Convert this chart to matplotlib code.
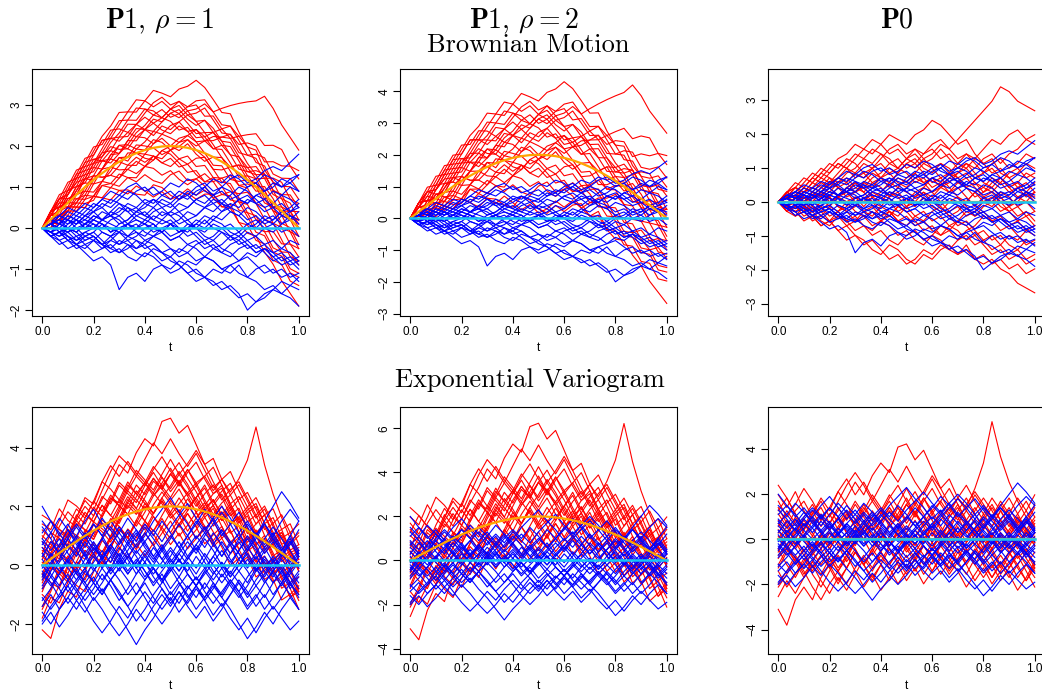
import numpy as np
import matplotlib
matplotlib.use("Agg")
import matplotlib.pyplot as plt

plt.rcParams['mathtext.fontset'] = 'cm'
plt.rcParams['font.family'] = ['Liberation Sans', 'DejaVu Sans']

t = np.linspace(0, 1, 31)

# true mean functions
mean_p1 = [0, .209, .416, .618, .813, 1.0, 1.176, 1.338, 1.486, 1.618, 1.732,
           1.827, 1.902, 1.956, 1.989, 2.0, 1.989, 1.956, 1.902, 1.827, 1.732,
           1.618, 1.486, 1.338, 1.176, 1.0, .813, .618, .416, .209, 0]
mean_p0 = [0.0] * 31

# brownian motion paths (deviation from mean)
bm_red = [
    [0, .2, .1, .3, .5, .4, .6, .8, .7, .9, 1.1, 1.0, 1.2, 1.4, 1.3, 1.2, 1.4, 1.5, 1.7, 1.6, 1.4, 1.2, 1.3, 1.0, .8, .9, .6, .5, .3, .4, .2],
    [0, -.1, .1, 0, .2, .1, -.1, .1, .3, .2, .4, .3, .5, .4, .6, .8, .7, .9, 1.0, 1.2, 1.1, 1.3, 1.5, 1.7, 1.9, 2.1, 2.4, 2.3, 2.1, 2.0, 1.9],
    [0, .1, -.1, -.2, 0, -.1, -.3, -.2, -.4, -.3, -.5, -.6, -.4, -.5, -.7, -.6, -.8, -.9, -.7, -.8, -1.0, -1.1, -.9, -1.2, -1.3, -1.2, -1.4, -1.5, -1.7, -1.8, -1.9],
    [0, .2, .4, .3, .5, .7, .6, .8, .7, .5, .6, .4, .5, .7, .6, .8, .9, .7, .6, .8, .7, .5, .6, .4, .3, .5, .4, .2, .3, .1, .2],
    [0, -.2, -.1, -.3, -.2, -.4, -.5, -.3, -.4, -.6, -.5, -.7, -.6, -.8, -.9, -.7, -.6, -.8, -.7, -.5, -.6, -.4, -.5, -.7, -.6, -.8, -.7, -.9, -1.0, -.8, -.9],
    [0, .1, .2, 0, .1, .3, .2, .4, .5, .3, .2, .4, .3, .1, .2, 0, -.1, .1, -.1, -.2, 0, .1, -.1, -.3, -.2, -.4, -.3, -.5, -.4, -.6, -.5],
    [0, -.1, -.3, -.2, -.4, -.3, -.1, -.2, 0, .1, -.1, .1, .2, .4, .3, .5, .6, .4, .5, .3, .4, .6, .7, .5, .6, .8, .9, .7, .8, 1.0, .9],
    [0, .2, .1, .3, .2, .4, .3, .1, .2, 0, -.2, -.1, -.3, -.2, -.4, -.5, -.3, -.4, -.6, -.7, -.5, -.4, -.2, -.3, -.1, 0, -.2, -.1, .1, 0, .2],
    [0, -.1, 0, .2, .3, .5, .4, .6, .8, 1.0, .9, 1.1, 1.0, .8, .9, .7, .8, 1.0, 1.1, .9, 1.0, .8, .7, .9, .8, .6, .7, .5, .6, .8, .7],
    [0, .1, -.1, -.2, -.1, -.3, -.4, -.6, -.5, -.7, -.8, -1.0, -1.1, -.9, -1.0, -1.2, -1.3, -1.1, -1.2, -1.0, -.9, -1.1, -1.0, -1.2, -1.1, -1.3, -1.2, -1.4, -1.3, -1.5, -1.4],
    [0, .2, .3, .1, 0, .2, .4, .5, .7, .6, .8, .7, .9, 1.1, 1.2, 1.0, 1.1, .9, .7, .8, .6, .4, .5, .3, .1, .2, 0, -.2, -.1, -.3, -.2],
    [0, -.2, -.3, -.1, -.2, 0, .1, -.1, -.2, -.4, -.3, -.5, -.4, -.2, -.3, -.1, 0, .2, .1, .3, .2, .4, .3, .1, .2, .4, .5, .3, .4, .6, .5],
    [0, .1, .3, .2, .4, .6, .8, .7, .9, .8, .6, .7, .5, .6, .4, .3, .5, .4, .2, .3, .5, .6, .8, .7, .9, 1.0, .8, 1.0, 1.1, 1.3, 1.2],
    [0, -.1, .1, 0, -.2, -.1, .1, .3, .2, .4, .3, .1, 0, .2, .1, -.1, -.3, -.2, -.4, -.3, -.5, -.6, -.8, -.7, -.9, -1.1, -1.0, -1.2, -1.1, -1.3, -1.2],
    [0, .2, .1, 0, .2, .1, .3, .5, .4, .6, .5, .7, .8, .6, .7, .9, .8, .6, .4, .5, .3, .1, 0, .2, 0, -.1, .1, -.1, 0, .2, .1],
    [0, -.1, -.2, -.4, -.3, -.5, -.4, -.6, -.8, -.7, -.9, -.8, -1.0, -1.2, -1.1, -1.3, -1.2, -1.0, -1.1, -.9, -1.0, -.8, -.7, -.9, -.8, -1.0, -.9, -.7, -.8, -.6, -.7],
    [0, .1, .3, .5, .4, .6, .5, .3, .4, .2, .3, .5, .6, .8, .7, .9, 1.1, 1.0, 1.2, 1.3, 1.1, .9, 1.0, .8, .6, .7, .5, .3, .4, .2, .0],
    [0, .1, 0, -.1, .1, .2, .1, -.1, -.2, -.1, .1, 0, -.1, .1, .3, .2, .1, .3, .2, 0, -.2, -.1, -.3, -.2, 0, .1, -.1, -.2, -.4, -.3, -.5],
    [0, -.2, -.1, .1, 0, .2, .4, .3, .1, .2, .4, .6, .5, .3, .5, .4, .6, .8, .7, .5, .6, .8, 1.0, .9, 1.1, 1.3, 1.2, 1.4, 1.5, 1.3, 1.4],
    [0, .2, .1, -.1, -.3, -.2, -.4, -.3, -.5, -.4, -.2, -.3, -.1, -.2, -.4, -.3, -.5, -.4, -.2, -.1, -.3, -.5, -.4, -.6, -.8, -.7, -.9, -1.1, -1.0, -1.2, -1.1],
    [0, .1, .2, .4, .6, .5, .7, .9, 1.0, 1.2, 1.1, 1.3, 1.2, 1.0, 1.1, .9, 1.0, .8, .9, 1.1, .9, .7, .8, .6, .4, .3, .5, .3, .1, .2, .4],
    [0, -.1, -.2, -.1, -.3, -.5, -.4, -.2, -.1, .1, 0, .2, .1, 0, -.2, -.1, .1, .2, 0, -.1, -.3, -.2, 0, .2, .3, .2, .4, .6, .7, .5, .6],
    [0, .1, 0, .2, .3, .2, 0, .1, .3, .4, .2, 0, -.2, -.3, -.1, -.2, -.4, -.6, -.5, -.7, -.6, -.8, -.6, -.5, -.3, -.4, -.6, -.5, -.7, -.9, -.8],
    [0, .2, .3, .2, .4, .3, .5, .4, .6, .7, .9, .8, 1.0, .9, .7, .6, .4, .5, .3, .4, .2, .3, .1, -.1, .1, 0, .2, .1, -.1, 0, -.2],
    [0, -.1, 0, .1, -.1, -.2, 0, .1, 0, -.2, -.3, -.2, -.4, -.3, -.1, 0, .2, .3, .5, .4, .6, .5, .3, .4, .2, .3, .1, -.1, -.3, -.2, -.4],
]
bm_blue = [
    [0, .1, .2, .1, .3, .2, .4, .5, .3, .4, .6, .5, .7, .6, .8, .9, .7, .8, 1.0, 1.1, .9, 1.0, 1.2, 1.3, 1.1, 1.2, 1.4, 1.5, 1.4, 1.6, 1.8],
    [0, -.1, -.2, 0, -.1, -.3, -.2, -.4, -.5, -.3, -.4, -.6, -.7, -.5, -.6, -.8, -.9, -1.1, -1.0, -1.2, -1.3, -1.5, -1.4, -1.6, -2.0, -1.8, -1.7, -1.5, -1.6, -1.4, -1.5],
    [0, -.2, -.3, -.5, -.4, -.6, -.8, -.7, -.9, -1.5, -1.2, -1.1, -1.3, -1.0, -.9, -1.1, -1.0, -.8, -.9, -.7, -.8, -1.0, -.9, -1.1, -1.2, -1.0, -.9, -1.1, -1.0, -1.2, -1.1],
    [0, .1, .3, .2, .4, .3, .5, .7, .6, .8, .7, .9, 1.0, .8, .9, 1.1, 1.0, 1.2, 1.1, .9, .8, 1.0, .9, .7, .8, .6, .7, .9, .8, 1.0, .9],
    [0, -.1, .1, 0, -.2, -.1, 0, .2, .1, 0, -.2, -.1, -.3, -.2, 0, .1, -.1, 0, .2, .1, .3, .2, .4, .3, .1, .2, 0, .1, -.1, 0, -.2],
    [0, .2, .1, .3, .2, 0, .1, -.1, -.2, 0, .1, .3, .2, .4, .5, .3, .4, .2, .3, .5, .4, .6, .5, .7, .6, .8, .9, 1.1, 1.0, 1.2, 1.3],
    [0, -.2, -.1, -.3, -.4, -.2, -.3, -.5, -.4, -.6, -.5, -.3, -.4, -.2, -.3, -.5, -.6, -.4, -.5, -.7, -.8, -1.0, -1.1, -.9, -1.2, -1.3, -1.5, -1.4, -1.6, -1.7, -1.9],
    [0, .1, 0, .2, .1, .3, .4, .2, .3, .5, .4, .2, .1, -.1, 0, -.2, -.1, .1, 0, -.2, -.3, -.1, -.2, -.4, -.3, -.5, -.4, -.6, -.5, -.3, -.4],
    [0, -.1, -.3, -.2, -.4, -.5, -.3, -.4, -.2, -.1, -.3, -.2, 0, .1, -.1, .1, .2, .4, .3, .5, .6, .4, .5, .7, .6, .8, .7, .5, .6, .4, .5],
    [0, .2, .3, .5, .4, .6, .5, .7, .9, .8, 1.0, 1.1, .9, 1.0, .8, .7, .9, .8, .6, .5, .7, .6, .4, .3, .5, .4, .2, .3, .1, .2, 0],
    [0, -.1, 0, -.2, -.3, -.1, -.2, -.4, -.6, -.5, -.7, -.8, -.6, -.7, -.9, -1.0, -.8, -.9, -1.1, -1.2, -1.0, -1.1, -.9, -.8, -.6, -.7, -.5, -.6, -.8, -.7, -.9],
    [0, .1, .2, 0, -.1, .1, 0, .2, .3, .1, .2, .4, .3, .5, .7, .6, .8, .7, .9, 1.0, 1.2, 1.1, 1.3, 1.2, 1.0, 1.1, .9, 1.0, 1.2, 1.1, 1.3],
    [0, -.2, -.1, -.3, -.2, -.4, -.3, -.1, -.2, -.4, -.3, -.5, -.4, -.6, -.8, -.7, -.9, -1.1, -1.3, -1.2, -1.4, -1.3, -1.5, -1.7, -1.6, -1.8, -1.6, -1.5, -1.3, -1.4, -1.2],
    [0, .1, -.1, .1, .2, 0, .2, .1, -.1, 0, .1, -.1, -.2, 0, -.1, .1, 0, -.2, -.1, -.3, -.2, 0, .1, -.1, .1, 0, .2, .1, .3, .2, .4],
    [0, .2, .1, .3, .2, .4, .6, .5, .7, .6, .4, .5, .3, .2, .4, .3, .1, .2, 0, -.1, .1, 0, -.2, -.1, -.3, -.2, 0, -.1, .1, .3, .2],
    [0, -.1, .1, .2, 0, .1, .3, .2, .4, .3, .1, 0, .2, .1, -.1, -.3, -.2, -.4, -.3, -.5, -.4, -.6, -.7, -.5, -.4, -.6, -.5, -.7, -.9, -.8, -1.0],
    [0, .1, .2, .4, .3, .5, .4, .6, .5, .7, .9, .8, .6, .7, .5, .6, .4, .5, .7, .6, .8, .9, .7, .8, 1.0, 1.1, 1.3, 1.2, 1.0, 1.1, .9],
    [0, -.2, -.4, -.3, -.5, -.4, -.6, -.5, -.3, -.4, -.2, -.3, -.5, -.4, -.6, -.7, -.5, -.6, -.4, -.3, -.5, -.4, -.2, -.3, -.1, -.2, -.4, -.3, -.5, -.6, -.8],
    [0, .1, 0, -.1, .1, .2, .1, 0, .2, .3, .5, .4, .6, .5, .3, .4, .6, .5, .7, .8, .6, .7, .5, .4, .2, .3, .1, .2, .4, .5, .7],
    [0, -.1, -.2, -.1, 0, -.2, -.1, -.3, -.5, -.6, -.4, -.5, -.3, -.4, -.6, -.5, -.7, -.6, -.8, -.7, -.5, -.6, -.4, -.3, -.5, -.4, -.6, -.8, -.7, -.9, -.8],
    [0, .2, .1, 0, -.1, .1, .2, .4, .3, .2, 0, .1, -.1, -.2, -.1, -.3, -.2, 0, .1, .3, .2, .4, .6, .5, .7, .6, .4, .5, .3, .4, .6],
    [0, -.1, 0, -.1, -.3, -.2, -.1, .1, 0, -.1, .1, .2, .1, .3, .2, .4, .3, .1, 0, .2, 0, -.1, -.3, -.2, -.4, -.6, -.5, -.7, -.6, -.8, -.7],
    [0, .1, .3, .2, .1, .3, .2, .1, -.1, .1, .2, .4, .5, .7, .6, .5, .7, .9, .8, 1.0, .8, .6, .8, 1.0, .9, .7, .5, .6, .8, .7, .5],
    [0, -.2, -.1, -.2, -.4, -.3, -.2, -.4, -.3, -.1, -.2, 0, .1, 0, .2, .1, -.1, 0, -.2, -.4, -.3, -.5, -.6, -.8, -.7, -.9, -1.1, -1.0, -1.2, -1.1, -1.3],
    [0, .1, -.1, 0, .2, .1, .3, .2, .4, .6, .5, .3, .4, .2, .1, .2, 0, -.1, .1, 0, .2, .1, -.1, -.2, 0, .1, .3, .2, .4, .3, .1],
]

# exponential variogram paths (deviation from mean)
exp_red = [
    [-.5, -.2, .3, .1, .6, .2, -.1, .4, .8, .5, 1.0, .6, .9, .4, .7, 1.1, .8, .5, .9, 1.2, .8, 1.3, 1.0, 1.6, 2.4, 3.7, 2.6, 1.8, 1.2, .7, .3],
    [.8, .4, .9, 1.2, .7, 1.0, .5, .9, 1.3, 1.8, 1.4, 2.0, 2.4, 2.1, 2.9, 3.0, 2.5, 2.8, 2.2, 1.6, 1.9, 1.3, .9, 1.4, 1.0, .6, 1.1, .7, .3, .6, .2],
    [-2.2, -2.7, -1.9, -1.5, -1.9, -1.2, -.8, -1.3, -.9, -.4, -.8, -.3, -.7, -.2, .2, -.3, -.7, -.2, -.6, -1.1, -.7, -.3, -.8, -.4, .1, -.3, .2, -.2, -.6, -.3, -.8],
    [1.4, 1.0, 1.5, .9, .5, .8, .3, .7, .2, -.2, .3, -.1, .4, .9, .6, 1.1, .7, 1.2, 1.6, 1.1, .7, 1.0, .5, .1, .5, .0, -.4, .1, -.3, .2, .6],
    [-.8, -.3, -.7, -1.2, -.8, -1.3, -1.7, -1.2, -1.6, -1.1, -.6, -1.0, -.5, -.9, -1.4, -1.0, -.6, -1.1, -.7, -.2, -.6, -1.0, -1.5, -1.1, -.7, -1.2, -.8, -.4, -.9, -1.3, -.9],
    [.2, .6, .2, .7, 1.1, .6, 1.0, 1.5, 1.1, .6, .2, .7, .3, -.2, .2, -.3, .1, .5, .1, .6, 1.0, .6, 1.1, 1.5, 1.1, .7, 1.2, .8, 1.3, .9, 1.4],
    [-1.4, -1.0, -.5, -.9, -.4, .1, -.3, .2, -.2, .3, .8, .4, .0, .5, .1, -.4, -.1, -.5, -1.0, -.6, -1.1, -.7, -.3, -.8, -1.2, -.8, -1.3, -.9, -.5, -1.0, -1.5],
    [.5, .1, -.3, .1, -.4, -.8, -.4, -.9, -.5, -1.0, -1.5, -1.1, -1.6, -1.2, -.7, -1.1, -.6, -.2, -.6, -.1, .3, -.1, .4, .0, -.4, .1, .5, .1, .6, .2, -.2],
    [-.3, .2, .7, .3, .8, 1.3, .9, 1.5, 1.9, 1.4, 1.8, 1.3, .9, 1.4, 1.0, .5, .9, .4, .8, .3, -.1, .4, -.1, .3, .8, .4, .9, 1.3, .8, 1.2, .7],
    [1.0, .5, .0, -.4, .1, -.3, .2, -.2, -.7, -.3, -.8, -.4, .1, -.3, -.8, -1.3, -.9, -1.4, -1.0, -.5, -.9, -.4, -.8, -1.3, -.9, -1.4, -1.0, -.5, -.1, -.6, -1.0],
    [-1.0, -1.5, -1.1, -.6, -1.0, -.5, -.9, -.4, .0, .4, .0, .5, .9, .5, 1.0, .6, 1.1, 1.5, 2.0, 1.6, 1.1, .7, .2, .6, .1, -.3, .1, -.4, -.8, -.4, -.9],
    [.1, -.3, .2, .6, .2, -.2, .3, -.1, -.5, -.1, .4, .9, .5, 1.0, .6, .2, .6, .1, -.3, .1, -.4, .0, .5, .1, .6, 1.0, .6, .2, -.2, .3, -.1],
    [-1.8, -1.3, -1.7, -1.2, -.7, -1.1, -.6, -1.0, -1.4, -.9, -.5, -.9, -.4, -.8, -.3, .2, -.2, .3, -.1, -.6, -.2, -.7, -1.1, -.6, -.2, -.6, -1.1, -.7, -1.2, -.8, -.4],
    [.9, 1.3, .8, .4, .9, .4, .8, .3, .7, 1.2, .8, 1.2, 1.7, 2.2, 1.8, 2.3, 1.8, 1.4, 1.9, 1.4, .9, 1.3, 1.7, 1.2, .8, 1.3, .9, .4, .8, .3, .7],
    [-.6, -.2, -.7, -.3, -1.1, -1.5, -1.0, -.5, -.9, -.4, -.8, -1.3, -.8, -.3, -.7, -.2, .3, -.1, .4, .8, .3, -.1, .3, -.2, -.7, -.3, -.8, -1.2, -.8, -1.3, -.8],
    [1.2, .7, 1.1, 1.6, 1.2, .7, .3, .7, .2, .6, 1.1, .6, .2, -.2, .3, .7, 1.2, .8, .3, -.1, .3, .8, .4, .9, 1.3, .9, .4, .8, .3, -.2, .2],
    [-.3, -.8, -1.2, -.7, -.3, .2, -.2, .3, .8, .4, .9, 1.4, 1.0, .6, 1.1, 1.6, 1.1, .7, .2, -.2, .2, -.3, -.7, -.3, -.8, -1.2, -.7, -1.1, -1.6, -1.2, -.7],
    [.4, .9, .5, .0, -.5, -.1, -.6, -1.0, -.6, -.1, .4, .0, -.4, .1, .5, .1, -.3, -.8, -.3, .2, .7, 1.1, .6, .2, .7, 1.1, .6, 1.0, .5, .9, .4],
    [-1.5, -1.1, -.6, -1.0, -1.5, -1.9, -1.4, -1.0, -.5, .0, .5, .1, .6, 1.0, .6, 1.1, 1.5, 1.0, .6, .1, .5, .0, -.4, .0, -.5, -.9, -.5, -.9, -.4, -.8, -1.2],
    [.6, .2, -.2, .3, .8, 1.2, .7, 1.2, 1.7, 2.1, 1.7, 1.2, .8, 1.2, .7, .3, .8, 1.3, .9, .4, .0, .5, .9, .5, .0, -.4, -.9, -.4, .0, -.4, .1],
    [.0, .4, -.1, -.5, -.9, -.5, -.9, -1.4, -.9, -.4, -.8, -.3, .2, -.2, .3, -.2, -.6, -.1, .4, .9, .4, .9, 1.3, .8, .3, .7, .2, -.3, .1, .6, 1.1],
    [-.9, -.4, .0, .5, .1, .6, 1.0, .5, .9, .4, .0, -.5, -.1, .4, .8, 1.3, .8, .4, -.1, .3, -.2, .2, -.3, -.8, -.3, .1, .6, .2, .7, .3, -.2],
    [1.7, 1.3, .8, .3, .7, .2, -.3, .1, -.3, .2, .6, .1, -.4, -.8, -.4, -.9, -.4, .0, .4, .0, .5, .1, .6, 1.0, .6, .1, -.3, .1, .5, .1, .5],
    [-.4, .1, .6, .2, -.3, .1, .5, 1.0, .6, 1.1, .7, .3, .8, 1.3, 1.7, 1.2, .8, 1.3, .8, 1.2, 1.6, 1.1, .6, .2, -.3, .2, -.2, .3, .7, .3, -.1],
    [.3, -.2, -.6, -1.1, -.7, -.3, -.8, -.4, .1, -.3, -.8, -1.2, -.8, -1.3, -.9, -.5, -1.0, -.6, -.1, -.5, -1.0, -.6, -.1, .3, -.1, .4, .9, .5, .1, .5, 1.0],
]
exp_blue = [
    [2.0, 1.5, 1.0, 1.4, .9, .4, .8, .3, -.2, .2, -.3, .1, .5, .1, .6, 1.0, .6, .2, .6, .1, -.3, .1, -.4, .0, .4, .0, .5, .9, .4, .8, .3],
    [-2.0, -1.6, -2.1, -1.7, -1.2, -1.6, -1.1, -1.5, -2.0, -2.4, -2.0, -1.5, -1.9, -1.4, -1.0, -1.4, -.9, -1.3, -.8, -1.2, -1.7, -1.3, -1.8, -2.2, -1.8, -2.3, -1.8, -1.4, -1.8, -2.2, -1.9],
    [-.4, .1, .5, .1, .5, 1.0, 1.4, 1.0, 1.5, 1.1, .7, 1.1, .6, .2, .6, .1, .5, 1.0, 1.5, 1.1, 1.6, 2.0, 1.6, 1.1, 1.5, 1.0, .6, 1.0, 1.5, 1.9, 1.5],
    [.6, .2, -.2, .2, -.3, -.7, -1.2, -.8, -1.3, -1.7, -2.2, -2.7, -2.2, -1.8, -1.3, -.9, -1.3, -.8, -.4, -.8, -.3, .1, -.3, .2, -.2, -.7, -.3, .2, -.2, .3, -.1],
    [-1.2, -.8, -.3, .1, -.3, .2, .6, .2, .7, .3, -.2, .2, -.2, -.7, -.3, -.8, -.4, .1, -.3, .2, .7, .3, .8, .4, -.1, .3, -.2, -.6, -.2, -.7, -.3],
    [1.1, 1.5, 1.1, .6, 1.0, 1.5, 1.9, 1.4, .9, 1.3, .8, .4, .8, 1.2, .8, 1.3, 1.7, 2.1, 1.6, 1.2, 1.6, 1.1, .7, 1.1, .6, .2, .6, .1, .5, 1.0, .5],
    [-.2, -.6, -1.1, -.7, -1.2, -.8, -.4, -.9, -.5, -.1, -.5, -1.0, -.6, -1.1, -1.5, -1.1, -1.6, -1.2, -.7, -1.1, -.6, -1.0, -.5, -.9, -1.4, -1.0, -1.5, -1.1, -.6, -1.0, -1.5],
    [.3, .8, .4, .9, .5, .0, .4, -.1, .3, .8, 1.2, .8, 1.3, .9, .5, .0, .4, .0, -.5, -.1, .3, -.1, .4, .9, 1.4, 1.0, 1.5, 2.0, 2.5, 2.1, 1.6],
    [-1.6, -2.0, -1.5, -1.1, -1.5, -1.0, -.6, -1.0, -.5, -.9, -1.4, -1.0, -.5, -.1, -.5, .0, -.4, -.8, -.4, -.9, -1.3, -.9, -.5, -.9, -.4, .0, -.4, .1, -.3, -.8, -.4],
    [.0, -.4, .1, .5, 1.0, .6, 1.1, 1.6, 1.2, .7, 1.1, .6, 1.0, 1.5, 1.9, 2.3, 1.8, 1.4, .9, 1.3, .8, .3, .7, .2, .6, 1.1, .7, 1.1, .6, .1, .5],
    [-.8, -.4, -.8, -1.3, -.9, -1.4, -1.9, -2.3, -1.9, -1.4, -1.8, -1.3, -.9, -1.3, -.8, -1.2, -.7, -.3, -.7, -.2, -.6, -1.1, -1.5, -2.0, -2.5, -2.1, -1.6, -2.0, -1.5, -1.1, -1.5],
    [.9, .5, .9, .4, .0, .4, -.1, -.5, -.1, .4, .0, .5, .1, -.3, .1, .5, .1, .6, 1.0, .6, 1.1, .7, .2, -.2, .2, -.2, .3, -.1, .4, .0, .4],
    [-.5, .0, -.4, -.9, -.5, -.1, .3, -.1, .3, -.2, .3, .7, 1.1, .7, .2, -.2, .2, -.3, -.7, -.3, .1, .5, .1, .5, 1.0, .6, .1, -.3, -.7, -.3, .1],
    [1.5, 1.1, .6, 1.0, 1.4, 1.0, .5, .9, .4, .0, .4, -.1, -.5, -.1, -.5, -1.0, -.6, -1.0, -1.5, -1.1, -.7, -1.1, -.6, -.2, -.6, -.1, -.5, -1.0, -.6, -.1, .3],
    [-1.1, -1.5, -1.1, -.7, -.2, -.6, -.2, .3, .7, .3, .8, 1.2, .8, .3, .7, .2, -.2, .2, .7, .3, -.2, -.6, -.2, -.6, -1.1, -.7, -1.1, -.6, -.2, -.6, -1.0],
    [-1.9, -1.4, -1.0, -.5, -.9, -.4, .1, .5, .1, .6, .2, -.3, .1, -.4, -.8, -1.3, -.9, -1.4, -1.8, -1.4, -1.9, -1.5, -1.0, -.6, -1.0, -.5, -.1, .3, -.1, -.6, -1.1],
    [.7, 1.1, 1.6, 1.2, .7, .3, .7, .2, -.3, .1, .5, 1.0, 1.4, 1.0, 1.5, 1.1, .6, 1.0, .5, 1.0, 1.4, 1.8, 1.4, .9, .5, .9, 1.4, 1.0, .5, 1.0, 1.5],
    [.2, -.3, -.7, -.3, -.8, -1.2, -.8, -.3, -.7, -1.2, -.8, -.3, .1, .6, .2, .6, .2, -.3, -.7, -1.2, -.8, -.3, -.7, -1.1, -.7, -.2, .2, -.2, -.6, -.2, .3],
    [-.7, -.2, .2, .7, .3, .8, .4, .9, 1.3, .9, .4, -.1, .3, -.1, -.6, -.1, .4, .8, .4, .9, .5, .0, -.4, .0, .5, 1.0, 1.4, .9, .5, .9, .4],
    [1.3, .9, .4, -.1, -.5, -.1, -.6, -1.0, -.5, -.1, .3, -.1, .4, -.1, -.5, -.1, -.6, -1.1, -.7, -.2, .3, .8, .4, .8, .3, -.1, -.6, -.2, .3, .8, .3],
    [-.1, .4, .0, -.5, -.1, -.6, -1.0, -.6, -.1, -.5, -1.0, -.6, -1.1, -1.6, -2.0, -1.6, -1.1, -.7, -1.1, -.6, -1.0, -1.4, -1.0, -.5, -.9, -1.4, -1.0, -1.5, -1.1, -.6, -.2],
    [.4, .0, .5, .9, 1.3, .9, 1.4, 1.0, .5, .1, -.3, .1, -.4, .0, .5, .9, 1.4, 1.0, 1.4, 1.9, 1.5, 1.0, 1.4, 1.8, 1.3, .8, .4, .8, .3, .7, 1.2],
    [-1.4, -1.0, -1.5, -1.1, -.6, -.2, -.6, -.1, -.5, -1.0, -1.4, -1.9, -1.5, -1.0, -.6, -.2, .2, -.2, .3, -.1, -.5, -.1, -.6, -1.0, -1.5, -1.1, -.6, -.2, .2, -.2, -.6],
    [.8, .3, .7, 1.2, .8, .3, -.2, .2, .7, 1.1, 1.6, 1.2, .7, .3, -.1, .3, .8, .3, -.1, .4, .0, -.4, .0, .5, .9, .5, .0, -.4, .0, -.4, -.8],
    [-.3, -.7, -.3, .2, .6, 1.1, .7, .2, .6, .2, .7, .3, -.2, -.6, -.2, .2, -.2, .3, .7, 1.1, .7, 1.2, .8, .4, .0, .4, .9, 1.3, .9, .5, .0],
]

col_titles = [r"$\mathbf{P1}$, $\rho = 1$", r"$\mathbf{P1}$, $\rho = 2$", r"$\mathbf{P0}$"]
row_titles = ["Brownian Motion", "Exponential Variogram"]
red_scale = [1.0, 1.41, 1.41]
col_means = [mean_p1, mean_p1, mean_p0]
ylims = [[(-2.15, 3.87), (-3.085, 4.69), (-3.37, 3.90)],
         [(-3.01, 5.39), (-4.23, 6.98), (-5.07, 5.88)]]
yticks = [[range(-2, 4), range(-3, 5), range(-3, 4)],
          [range(-2, 5, 2), range(-4, 7, 2), range(-4, 5, 2)]]

W, H = 1042, 692
fig = plt.figure(figsize=(W / 100, H / 100), dpi=100)

lefts = [32, 400, 768]
tops = [69.3, 406.7]
aw, ah = 277, 247

for r, (reds, blues) in enumerate([(bm_red, bm_blue), (exp_red, exp_blue)]):
    for c in range(3):
        ax = fig.add_axes([lefts[c] / W, 1 - (tops[r] + ah) / H, aw / W, ah / H])
        mu = np.array(col_means[c])
        for p in reds:
            ax.plot(t, mu + red_scale[c] * np.array(p), color='#FF0000', lw=0.8)
        for p in blues:
            ax.plot(t, p, color='#0000FF', lw=0.8)
        ax.plot(t, mu, color='#FFA500', lw=1.6)
        ax.plot(t, mean_p0, color='#18C4F4', lw=1.8)
        ax.set_xlim(-0.04, 1.04)
        ax.set_ylim(*ylims[r][c])
        ax.set_xticks([0, 0.2, 0.4, 0.6, 0.8, 1.0])
        ax.set_xticklabels(["0.0", "0.2", "0.4", "0.6", "0.8", "1.0"])
        ax.set_yticks(list(yticks[r][c]))
        ax.set_yticklabels([str(v).replace('-', '\u2212') for v in yticks[r][c]])
        ax.tick_params(direction='out', length=5, width=0.8, labelsize=8.5, pad=2)
        for lab in ax.get_yticklabels():
            lab.set_rotation(90)
            lab.set_va('center')
        for s in ax.spines.values():
            s.set_linewidth(0.8)
        ax.set_xlabel("t", fontsize=8.5, labelpad=3)

col_cx = [160, 524, 897]
for c in range(3):
    fig.text(col_cx[c] / W, 1 - 28 / H, col_titles[c], ha='center', va='baseline',
             fontsize=20, family='cmr10')
fig.text(528 / W, 1 - 52 / H, row_titles[0], ha='center', va='baseline', fontsize=19, family='cmr10')
fig.text(530 / W, 1 - 387 / H, row_titles[1], ha='center', va='baseline', fontsize=19, family='cmr10')

fig.savefig("out.png", dpi=100)
